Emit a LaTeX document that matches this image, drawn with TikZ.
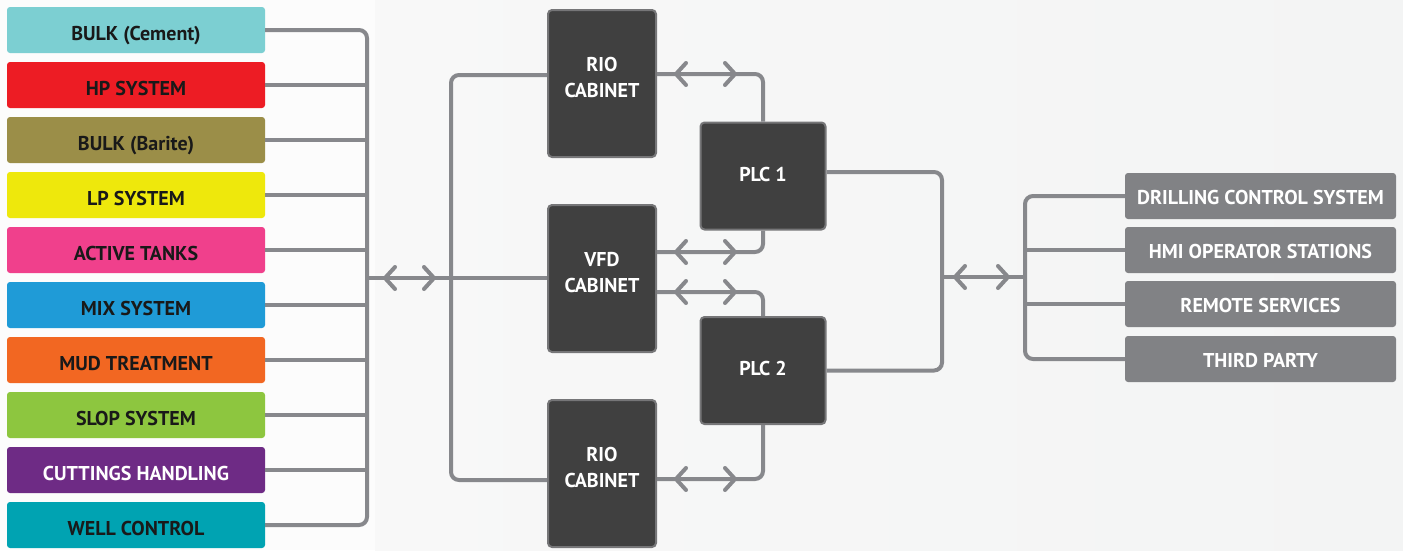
\documentclass[tikz,border=0pt]{standalone}
\usepackage{fontspec}
\setmainfont{PT Sans}
\usetikzlibrary{arrows.meta,decorations.markings}

\definecolor{wiregray}{RGB}{135,136,140}
\definecolor{cabfill}{RGB}{64,64,64}
\definecolor{cabedge}{RGB}{118,118,120}
\definecolor{outfill}{RGB}{129,130,133}
\definecolor{cement}{RGB}{124,207,210}
\definecolor{hpred}{RGB}{237,28,36}
\definecolor{barite}{RGB}{155,142,72}
\definecolor{lpyellow}{RGB}{238,232,12}
\definecolor{tankpink}{RGB}{240,64,140}
\definecolor{mixblue}{RGB}{31,155,215}
\definecolor{mudorange}{RGB}{242,103,34}
\definecolor{slopgreen}{RGB}{141,198,63}
\definecolor{cutpurple}{RGB}{110,43,133}
\definecolor{wellteal}{RGB}{0,163,178}

\tikzset{
  sysbox/.style={rectangle, rounded corners=3pt, minimum width=258pt, minimum height=46pt,
    inner sep=0pt, text height=20pt, text depth=0pt, text=black!90,
    font=\fontsize{20}{24}\selectfont\bfseries},
  outbox/.style={sysbox, fill=outfill, text=white, minimum width=271pt, text height=16pt},
  cabinet/.style={rectangle, draw=cabedge, line width=2pt, fill=cabfill, rounded corners=4pt,
    minimum width=108pt, minimum height=147pt, inner sep=0pt, text=white, align=center,
    text depth=12pt, font=\fontsize{20}{26}\selectfont\bfseries},
  plcbox/.style={cabinet, minimum width=125pt, minimum height=107pt, text depth=4pt},
  wire/.style={draw=wiregray, color=wiregray, line width=4pt, rounded corners=8pt},
  chev/.style 2 args={postaction={decorate, decoration={markings,
    mark=at position #1 with {\arrowreversed{Straight Barb[length=10pt,width=22pt,line width=4pt,round]}},
    mark=at position #2 with {\arrow{Straight Barb[length=10pt,width=22pt,line width=4pt,round]}}}}}
}

\begin{document}
\begin{tikzpicture}[x=1pt,y=-1pt]
\useasboundingbox (0,0) rectangle (1403,550);
% background
\fill[white!99!black] (0,0) rectangle (375,550);
\shade[left color={rgb,255:red,248;green,248;blue,248}, right color={rgb,255:red,243;green,244;blue,244}]
  (375,0) rectangle (1403,550);

% subsystems
\node[sysbox, fill=cement] (bulkc) at (136,30) {BULK (Cement)};
\node[sysbox, fill=hpred] (hp) at (136,85) {HP SYSTEM};
\node[sysbox, fill=barite] (bulkb) at (136,140) {BULK (Barite)};
\node[sysbox, fill=lpyellow] (lp) at (136,195) {LP SYSTEM};
\node[sysbox, fill=tankpink] (tanks) at (136,250) {ACTIVE TANKS};
\node[sysbox, fill=mixblue] (mix) at (136,305) {MIX SYSTEM};
\node[sysbox, fill=mudorange] (mud) at (136,360) {MUD TREATMENT};
\node[sysbox, fill=slopgreen] (slop) at (136,415) {SLOP SYSTEM};
\node[sysbox, fill=cutpurple, text=white] (cut) at (136,470) {CUTTINGS HANDLING};
\node[sysbox, fill=wellteal] (well) at (136,525) {WELL CONTROL};

% cabinets and PLCs
\node[cabinet] (rio1) at (602,83.5) {RIO\\CABINET};
\node[cabinet] (vfd) at (602,278.5) {VFD\\CABINET};
\node[cabinet] (rio2) at (602,473.5) {RIO\\CABINET};
\node[plcbox] (plc1) at (763,176) {PLC 1};
\node[plcbox] (plc2) at (763,370.5) {PLC 2};

% outside systems
\node[outbox] (dcs) at (1260.5,196) {DRILLING CONTROL SYSTEM};
\node[outbox] (hmi) at (1260.5,250) {HMI OPERATOR STATIONS};
\node[outbox] (remote) at (1260.5,304) {REMOTE SERVICES};
\node[outbox] (third) at (1260.5,359) {THIRD PARTY};

\coordinate (lbus) at (367,278);
\coordinate (mbus) at (451,278);
\coordinate (rbus) at (942,277);
\coordinate (obus) at (1025,277);

% left bus
\draw[wire] (bulkc.east) -| (lbus) |- (well.east);
\draw[wire] (hp.east) -- (hp.east -| lbus);
\draw[wire] (bulkb.east) -- (bulkb.east -| lbus);
\draw[wire] (lp.east) -- (lp.east -| lbus);
\draw[wire] (tanks.east) -- (tanks.east -| lbus);
\draw[wire] (mix.east) -- (mix.east -| lbus);
\draw[wire] (mud.east) -- (mud.east -| lbus);
\draw[wire] (slop.east) -- (slop.east -| lbus);
\draw[wire] (cut.east) -- (cut.east -| lbus);
\draw[wire, chev={16pt}{69pt}] (lbus) -- (lbus -| vfd.west);

% cabinet bus
\draw[wire] (rio1.west |- 0,75) -| (mbus) |- (rio2.west |- 0,480);

% cabinet to PLC links
\draw[wire, chev={17pt}{80pt}] (rio1.east |- 0,74) -| (plc1.north);
\draw[wire, chev={17pt}{80pt}] (vfd.east |- 0,252) -| (plc1.south);
\draw[wire, chev={17pt}{80pt}] (vfd.east |- 0,292) -| (plc2.north);
\draw[wire, chev={17pt}{80pt}] (rio2.east |- 0,479) -| (plc2.south);

% PLC to outside
\draw[wire] (plc1.east |- 0,172) -| (rbus) |- (plc2.east);
\draw[wire, chev={11pt}{68pt}] (rbus) -- (obus);
\draw[wire] (dcs.west) -| (obus) |- (third.west);
\draw[wire] (hmi.west) -- (hmi.west -| obus);
\draw[wire] (remote.west) -- (remote.west -| obus);

\end{tikzpicture}
\end{document}
